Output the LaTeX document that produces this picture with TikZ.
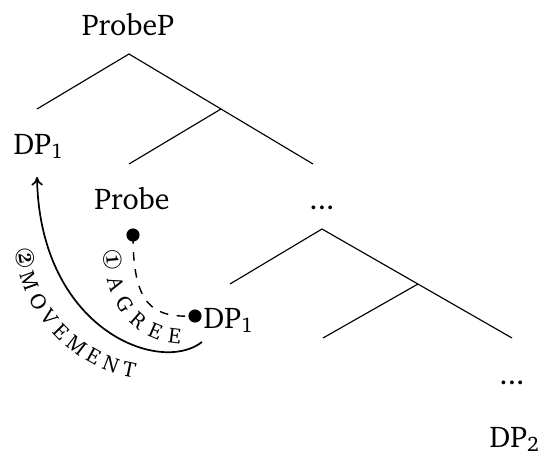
\documentclass[tikz,border=0pt]{standalone}
\usepackage[T1]{fontenc}
\renewcommand{\rmdefault}{bch}
\usepackage{pifont}
\usetikzlibrary{decorations.text,arrows.meta}
\begin{document}
\begin{tikzpicture}[x=0.35pt,y=-0.35pt,
  lbl/.style={inner sep=0pt,font=\fontsize{10.5}{12}\selectfont},
  branch/.style={line width=0.4pt},
  dotnode/.style={circle,fill=black,inner sep=0pt,minimum size=4.6pt},
  curvetext/.style={decorate,decoration={text along path,text={#1},text align=fit to path}}]
\useasboundingbox (0,0) rectangle (538,453);
% labels
\node[lbl,anchor=base] (probep) at (128,35) {ProbeP};
\node[lbl,anchor=base west] (dpa) at (13,154) {DP\textsubscript{1}};
\node[lbl,anchor=base] (probe) at (132,209) {Probe};
\node[lbl,anchor=base] (dots1) at (322,209) {...};
\node[lbl,anchor=base west] (dpb) at (203,328) {DP\textsubscript{1}};
\node[lbl,anchor=base] (dots2) at (512,384) {...};
\node[lbl,anchor=base west] (dpc) at (489,447) {DP\textsubscript{2}};
% tree coordinates
\coordinate (a) at (129,54);
\coordinate (b) at (37,109);
\coordinate (c) at (313,164);
\coordinate (d) at (221,109);
\coordinate (e) at (129,164);
\coordinate (f) at (322,229);
\coordinate (g) at (230,284);
\coordinate (h) at (512,338);
\coordinate (i) at (418,284);
\coordinate (j) at (323,338);
\draw[branch] (b) -- (a) -- (c);
\draw[branch] (d) -- (e);
\draw[branch] (g) -- (f) -- (h);
\draw[branch] (i) -- (j);
% dots
\node[dotnode] (pdot) at (133,235) {};
\node[dotnode] (ddot) at (195,316) {};
% agree
\draw[dashed,line width=0.5pt] (pdot.center) .. controls (133,305) and (152,318) .. (ddot.center);
\coordinate (as) at (103,250);
\coordinate (ae) at (180,344);
\path[curvetext={|\fontsize{9}{10}\selectfont|{\ding{172}}|\fontsize{7.6}{9}\selectfont| A G R E E}]
  (as) .. controls (104,300) and (130,341) .. (ae);
% movement
\coordinate (mstart) at (202,342);
\coordinate (mend) at (37,177);
\draw[-{To[length=3pt,width=4pt]},line width=0.6pt] (mstart) .. controls (160,375) and (40,330) .. (mend);
\coordinate (ms) at (15,249);
\coordinate (me) at (133,378);
\path[curvetext={|\fontsize{9}{10}\selectfont|{\ding{173}}|\fontsize{7.6}{9}\selectfont| M O V E M E N T}]
  (ms) .. controls (19,312) and (72,368) .. (me);
\end{tikzpicture}
\end{document}
